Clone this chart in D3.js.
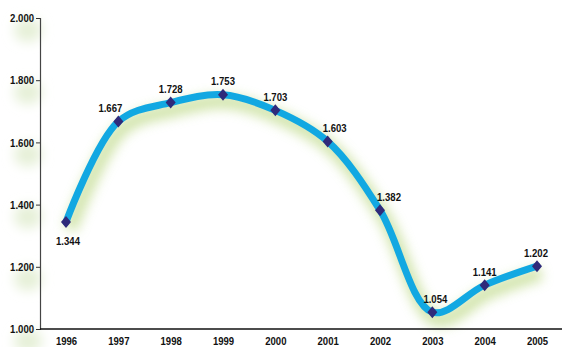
<!DOCTYPE html>
<html><head><meta charset="utf-8">
<script src="https://cdn.jsdelivr.net/npm/d3@7/dist/d3.min.js"></script>
<style>body{margin:0;background:#fff}svg{display:block}</style>
</head><body><svg id="c" width="562" height="347"></svg>
<script>
const years = ["1996","1997","1998","1999","2000","2001","2002","2003","2004","2005"];
const values = [1.344,1.667,1.728,1.753,1.703,1.603,1.382,1.054,1.141,1.202];
const labels = ["1.344","1.667","1.728","1.753","1.703","1.603","1.382","1.054","1.141","1.202"];
const labelDx = [2,-8,0,0,0,7,9,3,0,-1];
const yTicks = [1.0,1.2,1.4,1.6,1.8,2.0];
const yTickLabels = ["1.000","1.200","1.400","1.600","1.800","2.000"];

const svg = d3.select("#c");
const font = "'Liberation Sans', Arial, sans-serif";
const condense = 0.83;
function narrow(sel){
  sel.each(function(){
    const w = this.getComputedTextLength();
    d3.select(this).attr("textLength", (w*condense).toFixed(2)).attr("lengthAdjust","spacingAndGlyphs");
  });
}
const x = d3.scalePoint().domain(years).range([66,537]);
const y = d3.scaleLinear().domain([1,2]).range([329,18]);

const defs = svg.append("defs");
const f = defs.append("filter").attr("id","glow").attr("x","-20%").attr("y","-20%").attr("width","140%").attr("height","140%");
f.append("feGaussianBlur").attr("stdDeviation",6);
const f2 = defs.append("filter").attr("id","glow2").attr("x","-50%").attr("y","-50%").attr("width","200%").attr("height","200%");
f2.append("feGaussianBlur").attr("stdDeviation",6);

svg.append("g").selectAll("ellipse").data(yTicks).join("ellipse")
  .attr("cx",28).attr("cy",d=>y(d)+12).attr("rx",14).attr("ry",12)
  .attr("fill","#e6f0d8").attr("filter","url(#glow2)");

const line = d3.line().x((d,i)=>x(years[i])).y(d=>y(d)).curve(d3.curveCatmullRom.alpha(0.5));

svg.append("path").datum(values).attr("d",line)
  .attr("transform","translate(4,7)")
  .attr("fill","none").attr("stroke","#c2dc90").attr("stroke-width",14)
  .attr("opacity",0.75).attr("filter","url(#glow)");

svg.append("path").datum(values).attr("d",line)
  .attr("fill","none").attr("stroke","#12a8e2").attr("stroke-width",7)
  .attr("stroke-linecap","round");

const yAxis = d3.axisLeft(y).tickValues(yTicks).tickFormat((d,i)=>yTickLabels[i]).tickSize(4).tickPadding(2);
const gy = svg.append("g").attr("transform","translate(40,0)").call(yAxis);
gy.select(".domain").attr("stroke","#444").attr("stroke-width",1.2);
gy.selectAll(".tick line").attr("stroke","#333");
gy.selectAll("text").attr("font-family",font).attr("font-weight","bold").attr("font-size",11.5).attr("fill","#111").call(narrow);

const xAxis = d3.axisBottom(x).tickSize(0).tickPadding(8);
const gx = svg.append("g").attr("transform","translate(0,329)").call(xAxis);
gx.select(".domain").attr("d","M40,0H562").attr("stroke","#111").attr("stroke-width",1.5);
gx.selectAll("text").attr("font-family",font).attr("font-weight","bold").attr("font-size",11.5).attr("fill","#111").call(narrow);

svg.append("g").selectAll("path").data(values).join("path")
  .attr("d","M0,-6L5,0L0,6L-5,0Z")
  .attr("transform",(d,i)=>`translate(${x(years[i])},${y(d)})`)
  .attr("fill","#2f2a7a");

svg.append("g").selectAll("text").data(values).join("text")
  .attr("x",(d,i)=>x(years[i]) + labelDx[i])
  .attr("y",(d,i)=> i===0 ? y(d)+23 : y(d)-9.5)
  .attr("text-anchor","middle")
  .attr("font-family",font).attr("font-weight","bold").attr("font-size",11.5).attr("fill","#111")
  .text((d,i)=>labels[i]).call(narrow);
</script></body></html>
